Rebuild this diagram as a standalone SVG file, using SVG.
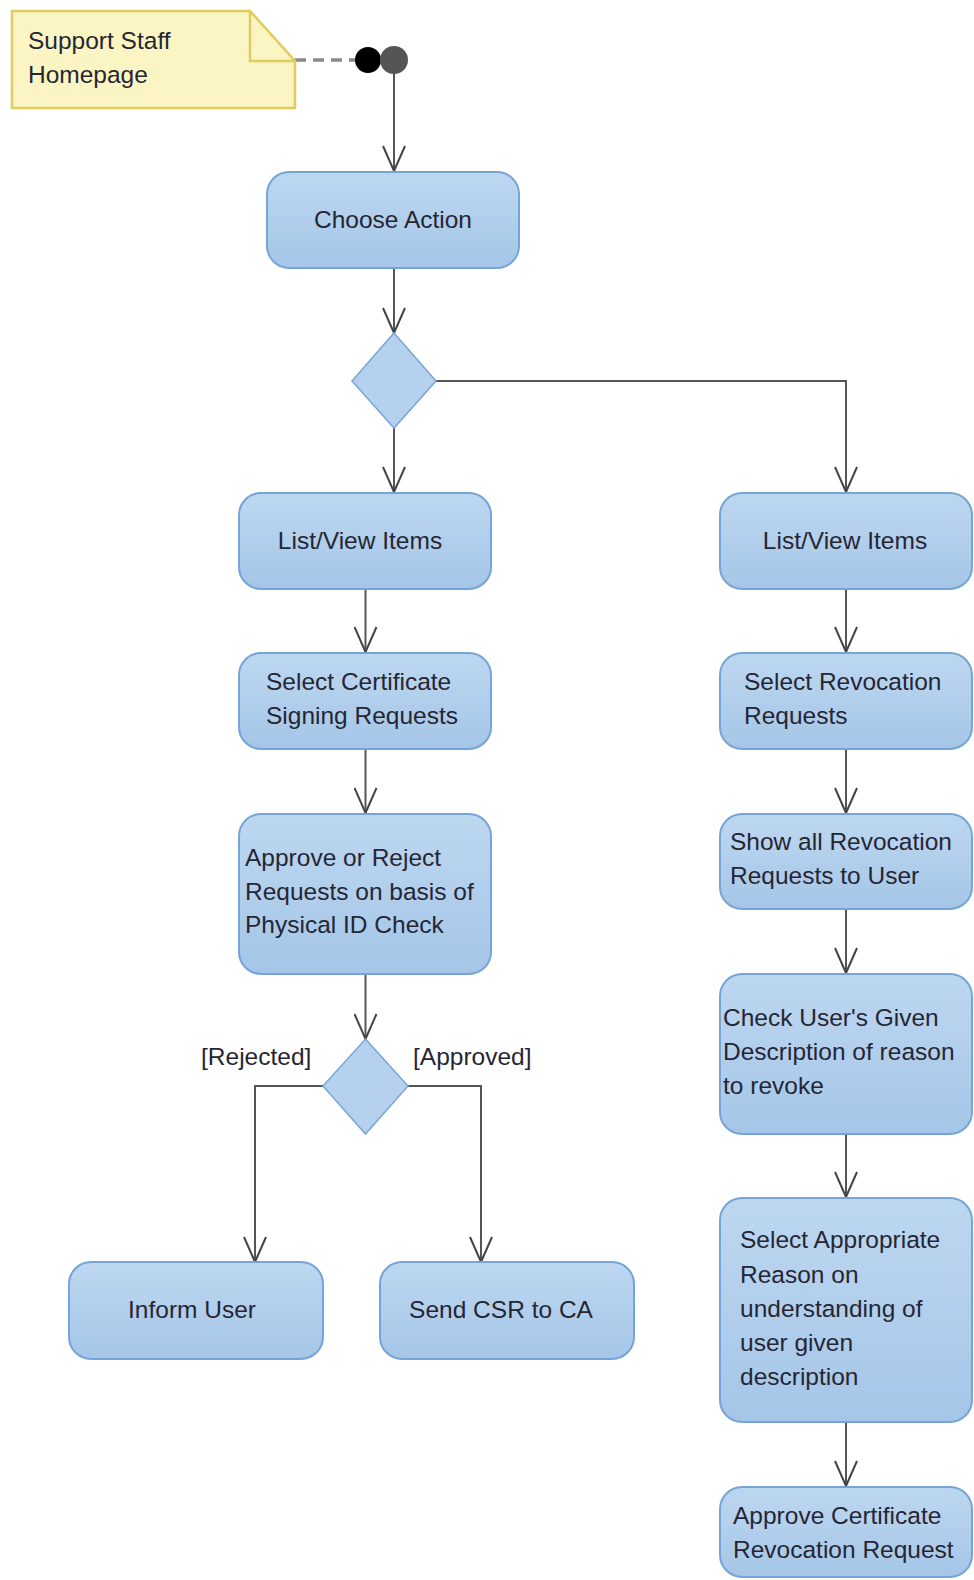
<svg xmlns="http://www.w3.org/2000/svg" width="974" height="1580" viewBox="0 0 974 1580">
  <defs>
    <linearGradient id="actFill" x1="0" y1="0" x2="0" y2="1">
      <stop offset="0" stop-color="#bdd7f0"/>
      <stop offset="1" stop-color="#a5c6e8"/>
    </linearGradient>
    <!-- open V arrowhead, tip at the end of the line -->
    <marker id="open" markerWidth="28" markerHeight="24" refX="26" refY="12" orient="auto" markerUnits="userSpaceOnUse" viewBox="0 0 28 24">
      <path d="M1,1 L26,12 L1,23" fill="none" stroke="#444" stroke-width="2"/>
    </marker>
    <style>
      .act { fill: url(#actFill); stroke: #77a4d6; stroke-width: 2; }
      .dec { fill: #b5d1ee; stroke: #7aa6d8; stroke-width: 1.5; }
      .t { font-family: "Liberation Sans", Arial, sans-serif; font-size: 24.5px; fill: #262633; }
      .c { text-anchor: middle; }
      .flow { fill: none; stroke: #555; stroke-width: 2; }
      .arr { marker-end: url(#open); }
      .anchor { fill: none; stroke: #8a8a8a; stroke-width: 3.5; stroke-dasharray: 11 7; }
    </style>
  </defs>

  <!-- Connectors -->
  <g id="connectors">
    <line class="anchor" x1="295" y1="60" x2="356" y2="60"/>
    <line class="flow arr" x1="394" y1="74" x2="394" y2="171"/>
    <line class="flow arr" x1="394" y1="269" x2="394" y2="333"/>
    <line class="flow arr" x1="394" y1="428" x2="394" y2="492"/>
    <polyline class="flow arr" points="436,381 846,381 846,492"/>
    <line class="flow arr" x1="365.5" y1="589" x2="365.5" y2="652"/>
    <line class="flow arr" x1="365.5" y1="749" x2="365.5" y2="813"/>
    <line class="flow arr" x1="365.5" y1="974" x2="365.5" y2="1039"/>
    <polyline class="flow arr" points="323,1086 255,1086 255,1262"/>
    <polyline class="flow arr" points="408,1086 481,1086 481,1262"/>
    <line class="flow arr" x1="846" y1="589" x2="846" y2="652"/>
    <line class="flow arr" x1="846" y1="749" x2="846" y2="813"/>
    <line class="flow arr" x1="846" y1="909" x2="846" y2="973"/>
    <line class="flow arr" x1="846" y1="1134" x2="846" y2="1197"/>
    <line class="flow arr" x1="846" y1="1422" x2="846" y2="1486"/>
  </g>

  <!-- Note -->
  <g id="note">
    <path d="M12,11 L250,11 L295,61 L295,108 L12,108 Z" fill="#fbf5c3" stroke="#e0cc5e" stroke-width="2.5"/>
    <path d="M250,11 L250,61 L295,61" fill="none" stroke="#e0cc5e" stroke-width="2.5"/>
    <text class="t" x="28" y="49">Support Staff</text>
    <text class="t" x="28" y="83">Homepage</text>
  </g>

  <!-- Initial node -->
  <g id="start">
    <circle cx="368" cy="60" r="13" fill="#000"/>
    <circle cx="394" cy="60" r="14" fill="#555"/>
  </g>

  <g id="chooseAction">
    <rect class="act" x="267" y="172" width="252" height="96" rx="22"/>
    <text class="t c" x="393" y="228">Choose Action</text>
  </g>

  <g id="decision1">
    <polygon class="dec" points="394,333 436,381 394,428 352,381"/>
  </g>

  <!-- Left column: certificate signing requests -->
  <g id="listViewLeft">
    <rect class="act" x="239" y="493" width="252" height="96" rx="22"/>
    <text class="t c" x="360" y="549">List/View Items</text>
  </g>
  <g id="selectCSR">
    <rect class="act" x="239" y="653" width="252" height="96" rx="22"/>
    <text class="t" x="266" y="690">Select Certificate</text>
    <text class="t" x="266" y="724">Signing Requests</text>
  </g>
  <g id="approveReject">
    <rect class="act" x="239" y="814" width="252" height="160" rx="22"/>
    <text class="t" x="245" y="866">Approve or Reject</text>
    <text class="t" x="245" y="900">Requests on basis of</text>
    <text class="t" x="245" y="933">Physical ID Check</text>
  </g>
  <g id="decision2">
    <polygon class="dec" points="365.5,1039 408,1086 365.5,1134 323,1086"/>
    <text class="t" x="201" y="1065">[Rejected]</text>
    <text class="t" x="413" y="1065">[Approved]</text>
  </g>
  <g id="informUser">
    <rect class="act" x="69" y="1262" width="254" height="97" rx="22"/>
    <text class="t c" x="192" y="1318">Inform User</text>
  </g>
  <g id="sendCSR">
    <rect class="act" x="380" y="1262" width="254" height="97" rx="22"/>
    <text class="t c" x="501" y="1318">Send CSR to CA</text>
  </g>

  <!-- Right column: revocation requests -->
  <g id="listViewRight">
    <rect class="act" x="720" y="493" width="252" height="96" rx="22"/>
    <text class="t c" x="845" y="549">List/View Items</text>
  </g>
  <g id="selectRevocation">
    <rect class="act" x="720" y="653" width="252" height="96" rx="22"/>
    <text class="t" x="744" y="690">Select Revocation</text>
    <text class="t" x="744" y="724">Requests</text>
  </g>
  <g id="showRevocation">
    <rect class="act" x="720" y="814" width="252" height="95" rx="22"/>
    <text class="t" x="730" y="850">Show all Revocation</text>
    <text class="t" x="730" y="884">Requests to User</text>
  </g>
  <g id="checkDescription">
    <rect class="act" x="720" y="974" width="252" height="160" rx="22"/>
    <text class="t" x="723" y="1026">Check User's Given</text>
    <text class="t" x="723" y="1060">Description of reason</text>
    <text class="t" x="723" y="1094">to revoke</text>
  </g>
  <g id="selectReason">
    <rect class="act" x="720" y="1198" width="252" height="224" rx="22"/>
    <text class="t" x="740" y="1248">Select Appropriate</text>
    <text class="t" x="740" y="1283">Reason on</text>
    <text class="t" x="740" y="1317">understanding of</text>
    <text class="t" x="740" y="1351">user given</text>
    <text class="t" x="740" y="1385">description</text>
  </g>
  <g id="approveRevocation">
    <rect class="act" x="720" y="1487" width="252" height="90" rx="22"/>
    <text class="t" x="733" y="1524">Approve Certificate</text>
    <text class="t" x="733" y="1558">Revocation Request</text>
  </g>
</svg>
